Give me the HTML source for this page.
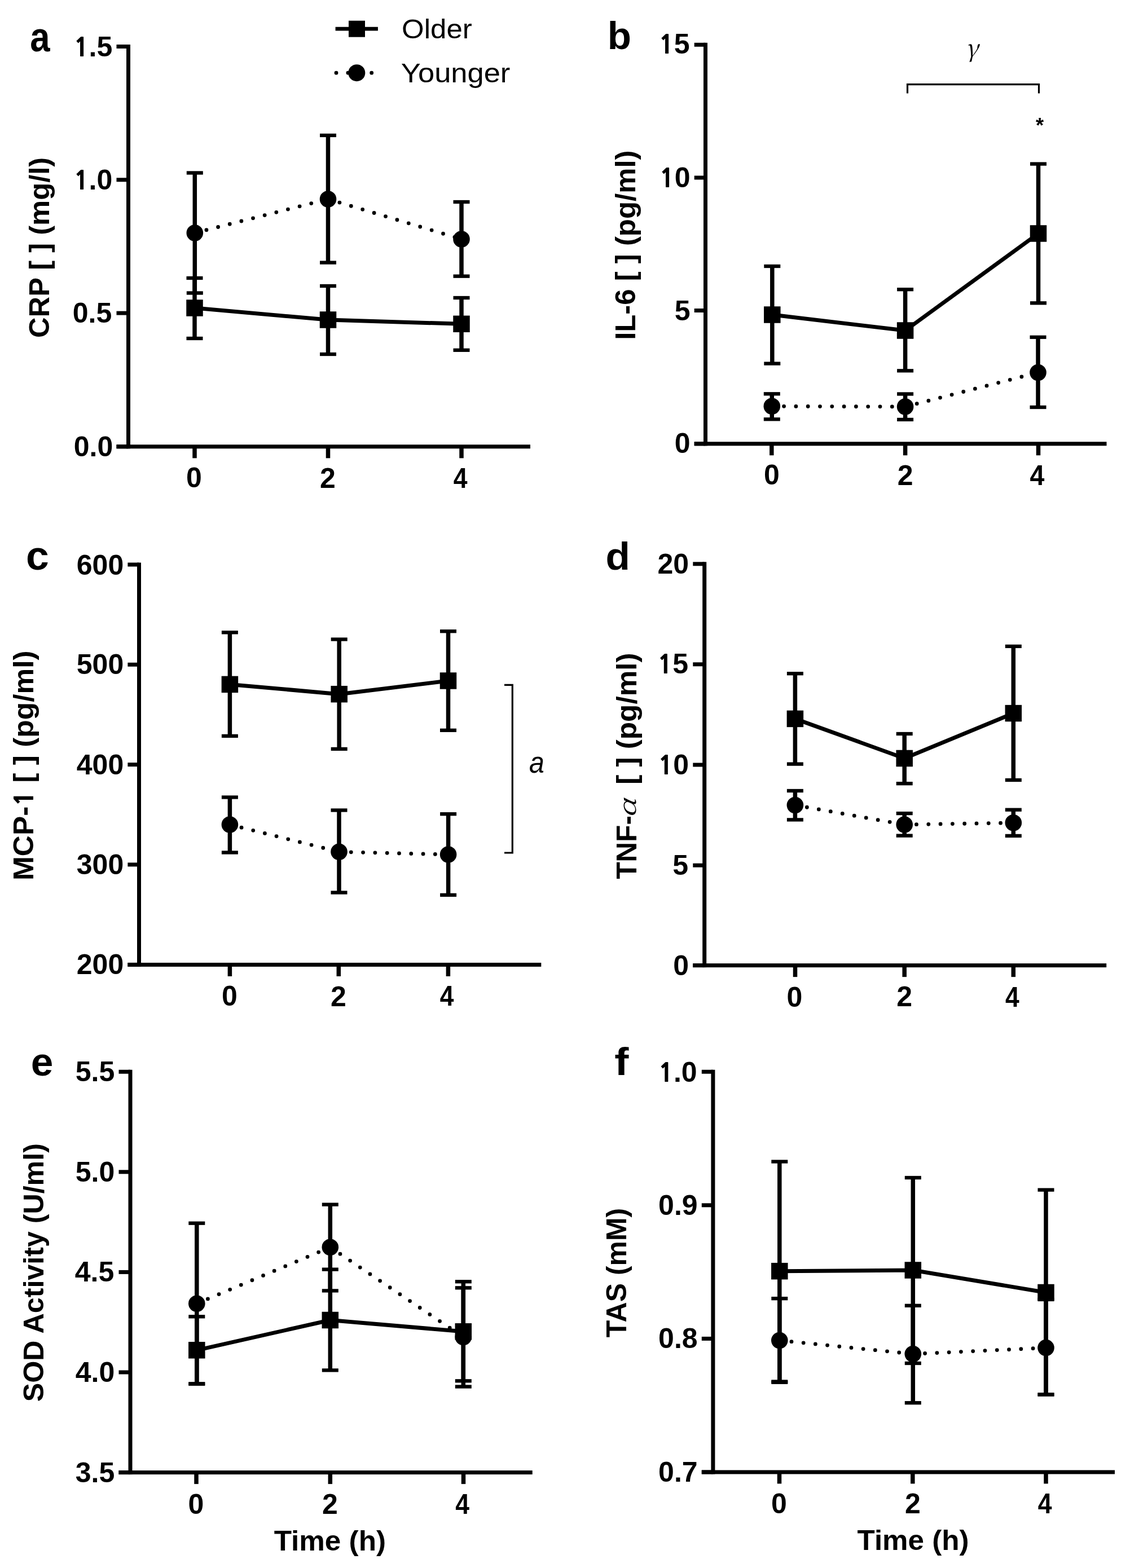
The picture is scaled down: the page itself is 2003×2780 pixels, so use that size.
<!DOCTYPE html>
<html><head><meta charset="utf-8"><title>Figure</title>
<style>
html,body{margin:0;padding:0;background:#fff;}
body{width:2003px;height:2780px;overflow:hidden;}
svg{display:block;}
text{font-family:"Liberation Sans", Arial, Helvetica, sans-serif;fill:#000;}
.tk{font-size:50px;font-weight:bold;}
.yl{font-size:50.5px;font-weight:bold;}
.pl{font-size:69px;font-weight:bold;}
.lg{font-size:48px;font-weight:normal;}
.gr{font-family:"Liberation Serif", "Times New Roman", serif;font-style:italic;font-weight:normal;}
.gm{font-family:"Noto Serif CJK SC","Liberation Serif", "Times New Roman", serif;font-style:italic;font-size:42px;}
.gra{font-family:"Noto Serif CJK SC","Liberation Serif", "Times New Roman", serif;font-style:italic;font-weight:normal;font-size:47px;}
.ast{font-size:36px;font-weight:bold;}
.one{font-family:NanumGothic,"Liberation Sans",sans-serif;font-weight:800;font-size:0.886em;}
.it{font-size:50px;font-style:italic;font-weight:normal;}
.dot{stroke:#000;stroke-width:6.8;stroke-linecap:round;stroke-dasharray:0 21.3;fill:none;}
.sol{stroke:#000;stroke-width:7.0;fill:none;stroke-linejoin:round;}
</style></head>
<body>
<svg width="2003" height="2780" viewBox="0 0 2003 2780">
<rect x="0" y="0" width="2003" height="2780" fill="#fff"/>
<g fill="#000" stroke="none">
<rect x="224" y="79" width="7" height="716.3"/>
<rect x="206.5" y="788.3" width="733.5" height="7"/>
<rect x="206.5" y="79" width="21" height="7"/>
<rect x="206.5" y="315.3" width="21" height="7"/>
<rect x="206.5" y="551.6" width="21" height="7"/>
<rect x="206.5" y="788.3" width="21" height="7"/>
<rect x="341.25" y="791.8" width="7.5" height="20.5"/>
<rect x="577.75" y="791.8" width="7.5" height="20.5"/>
<rect x="814.25" y="791.8" width="7.5" height="20.5"/>
<rect x="341.25" y="493" width="7.5" height="107"/>
<rect x="330.5" y="489.85" width="29" height="6.3"/>
<rect x="330.5" y="596.85" width="29" height="6.3"/>
<rect x="577.75" y="507" width="7.5" height="121"/>
<rect x="567" y="503.85" width="29" height="6.3"/>
<rect x="567" y="624.85" width="29" height="6.3"/>
<rect x="814.25" y="528" width="7.5" height="92.8"/>
<rect x="803.5" y="524.85" width="29" height="6.3"/>
<rect x="803.5" y="617.65" width="29" height="6.3"/>
<rect x="341.55" y="306.5" width="7.5" height="213"/>
<rect x="330.8" y="303.35" width="29" height="6.3"/>
<rect x="330.8" y="516.35" width="29" height="6.3"/>
<rect x="577.75" y="240" width="7.5" height="225.6"/>
<rect x="567" y="236.85" width="29" height="6.3"/>
<rect x="567" y="462.45" width="29" height="6.3"/>
<rect x="814.25" y="358" width="7.5" height="131.7"/>
<rect x="803.5" y="354.85" width="29" height="6.3"/>
<rect x="803.5" y="486.55" width="29" height="6.3"/>
<line class="dot" x1="345.3" y1="413" x2="581.5" y2="353"/>
<line class="dot" x1="581.5" y1="353" x2="818" y2="424"/>
<polyline class="sol" points="345,546 581.5,567 818,574.3"/>
<circle cx="345.3" cy="413" r="14.8"/>
<circle cx="581.5" cy="353" r="14.8"/>
<circle cx="818" cy="424" r="14.8"/>
<rect x="330.25" y="531.25" width="29.5" height="29.5"/>
<rect x="566.75" y="552.25" width="29.5" height="29.5"/>
<rect x="803.25" y="559.55" width="29.5" height="29.5"/>
<rect x="1247" y="75.8" width="7" height="714.5"/>
<rect x="1230.7" y="783.3" width="730.8" height="7"/>
<rect x="1230.7" y="75.8" width="19.8" height="7"/>
<rect x="1230.7" y="311.5" width="19.8" height="7"/>
<rect x="1230.7" y="547" width="19.8" height="7"/>
<rect x="1230.7" y="783.3" width="19.8" height="7"/>
<rect x="1364.05" y="786.8" width="7.5" height="20.5"/>
<rect x="1600.85" y="786.8" width="7.5" height="20.5"/>
<rect x="1836.75" y="786.8" width="7.5" height="20.5"/>
<rect x="1365.05" y="472" width="7.5" height="172.6"/>
<rect x="1354.3" y="468.85" width="29" height="6.3"/>
<rect x="1354.3" y="641.45" width="29" height="6.3"/>
<rect x="1600.85" y="513.2" width="7.5" height="144.1"/>
<rect x="1590.1" y="510.05" width="29" height="6.3"/>
<rect x="1590.1" y="654.15" width="29" height="6.3"/>
<rect x="1836.75" y="290.6" width="7.5" height="246.7"/>
<rect x="1826" y="287.45" width="29" height="6.3"/>
<rect x="1826" y="534.15" width="29" height="6.3"/>
<rect x="1364.55" y="698.3" width="7.5" height="45"/>
<rect x="1353.8" y="695.15" width="29" height="6.3"/>
<rect x="1353.8" y="740.15" width="29" height="6.3"/>
<rect x="1600.85" y="698.5" width="7.5" height="45.4"/>
<rect x="1590.1" y="695.35" width="29" height="6.3"/>
<rect x="1590.1" y="740.75" width="29" height="6.3"/>
<rect x="1836.25" y="597.8" width="7.5" height="124.2"/>
<rect x="1825.5" y="594.65" width="29" height="6.3"/>
<rect x="1825.5" y="718.85" width="29" height="6.3"/>
<line class="dot" x1="1368.3" y1="720.3" x2="1604.6" y2="721"/>
<line class="dot" x1="1604.6" y1="721" x2="1840" y2="660.5"/>
<polyline class="sol" points="1368.8,558 1604.6,586 1840.5,414"/>
<circle cx="1368.3" cy="720.3" r="14.8"/>
<circle cx="1604.6" cy="721" r="14.8"/>
<circle cx="1840" cy="660.5" r="14.8"/>
<rect x="1354.05" y="543.25" width="29.5" height="29.5"/>
<rect x="1589.85" y="571.25" width="29.5" height="29.5"/>
<rect x="1825.75" y="399.25" width="29.5" height="29.5"/>
<rect x="243" y="997.5" width="7" height="716.4"/>
<rect x="226.4" y="1706.9" width="732.9" height="7"/>
<rect x="226.4" y="997.5" width="20.1" height="7"/>
<rect x="226.4" y="1174.8" width="20.1" height="7"/>
<rect x="226.4" y="1352.1" width="20.1" height="7"/>
<rect x="226.4" y="1529.4" width="20.1" height="7"/>
<rect x="226.4" y="1706.9" width="20.1" height="7"/>
<rect x="403.65" y="1710.4" width="7.5" height="20.5"/>
<rect x="596.55" y="1710.4" width="7.5" height="20.5"/>
<rect x="790.65" y="1710.4" width="7.5" height="20.5"/>
<rect x="403.65" y="1121.3" width="7.5" height="183.6"/>
<rect x="392.9" y="1118.15" width="29" height="6.3"/>
<rect x="392.9" y="1301.75" width="29" height="6.3"/>
<rect x="597.45" y="1133.5" width="7.5" height="194.4"/>
<rect x="586.7" y="1130.35" width="29" height="6.3"/>
<rect x="586.7" y="1324.75" width="29" height="6.3"/>
<rect x="790.75" y="1119.2" width="7.5" height="175.6"/>
<rect x="780" y="1116.05" width="29" height="6.3"/>
<rect x="780" y="1291.65" width="29" height="6.3"/>
<rect x="403.65" y="1413.5" width="7.5" height="98"/>
<rect x="392.9" y="1410.35" width="29" height="6.3"/>
<rect x="392.9" y="1508.35" width="29" height="6.3"/>
<rect x="597.25" y="1436.5" width="7.5" height="146"/>
<rect x="586.5" y="1433.35" width="29" height="6.3"/>
<rect x="586.5" y="1579.35" width="29" height="6.3"/>
<rect x="790.85" y="1443.2" width="7.5" height="143.6"/>
<rect x="780.1" y="1440.05" width="29" height="6.3"/>
<rect x="780.1" y="1583.65" width="29" height="6.3"/>
<line class="dot" x1="407.4" y1="1462" x2="601" y2="1510.3"/>
<line class="dot" x1="601" y1="1510.3" x2="794.6" y2="1515"/>
<polyline class="sol" points="407.4,1213.4 601.2,1230.7 794.5,1207"/>
<circle cx="407.4" cy="1462" r="14.8"/>
<circle cx="601" cy="1510.3" r="14.8"/>
<circle cx="794.6" cy="1515" r="14.8"/>
<rect x="392.65" y="1198.65" width="29.5" height="29.5"/>
<rect x="586.45" y="1215.95" width="29.5" height="29.5"/>
<rect x="779.75" y="1192.25" width="29.5" height="29.5"/>
<rect x="1245.2" y="996.3" width="7" height="718.8"/>
<rect x="1228.3" y="1708.1" width="732.9" height="7"/>
<rect x="1228.3" y="996.3" width="20.4" height="7"/>
<rect x="1228.3" y="1174.3" width="20.4" height="7"/>
<rect x="1228.3" y="1352.5" width="20.4" height="7"/>
<rect x="1228.3" y="1530.7" width="20.4" height="7"/>
<rect x="1228.3" y="1708.1" width="20.4" height="7"/>
<rect x="1405.75" y="1711.6" width="7.5" height="20.5"/>
<rect x="1599.45" y="1711.6" width="7.5" height="20.5"/>
<rect x="1792.55" y="1711.6" width="7.5" height="20.5"/>
<rect x="1405.65" y="1194.2" width="7.5" height="160.4"/>
<rect x="1394.9" y="1191.05" width="29" height="6.3"/>
<rect x="1394.9" y="1351.45" width="29" height="6.3"/>
<rect x="1599.45" y="1301" width="7.5" height="88.2"/>
<rect x="1588.7" y="1297.85" width="29" height="6.3"/>
<rect x="1588.7" y="1386.05" width="29" height="6.3"/>
<rect x="1792.55" y="1145.9" width="7.5" height="237.1"/>
<rect x="1781.8" y="1142.75" width="29" height="6.3"/>
<rect x="1781.8" y="1379.85" width="29" height="6.3"/>
<rect x="1405.65" y="1402" width="7.5" height="51.4"/>
<rect x="1394.9" y="1398.85" width="29" height="6.3"/>
<rect x="1394.9" y="1450.25" width="29" height="6.3"/>
<rect x="1599.45" y="1442.1" width="7.5" height="39.5"/>
<rect x="1588.7" y="1438.95" width="29" height="6.3"/>
<rect x="1588.7" y="1478.45" width="29" height="6.3"/>
<rect x="1792.55" y="1435.7" width="7.5" height="46.2"/>
<rect x="1781.8" y="1432.55" width="29" height="6.3"/>
<rect x="1781.8" y="1478.75" width="29" height="6.3"/>
<line class="dot" x1="1409.4" y1="1427.5" x2="1603.2" y2="1462"/>
<line class="dot" x1="1603.2" y1="1462" x2="1796.3" y2="1458.8"/>
<polyline class="sol" points="1409.4,1274.4 1603.2,1344.5 1796.3,1264.6"/>
<circle cx="1409.4" cy="1427.5" r="14.8"/>
<circle cx="1603.2" cy="1462" r="14.8"/>
<circle cx="1796.3" cy="1458.8" r="14.8"/>
<rect x="1394.65" y="1259.65" width="29.5" height="29.5"/>
<rect x="1588.45" y="1329.75" width="29.5" height="29.5"/>
<rect x="1781.55" y="1249.85" width="29.5" height="29.5"/>
<rect x="227.5" y="1896.7" width="7" height="717.4"/>
<rect x="210.5" y="2607.1" width="733.2" height="7"/>
<rect x="210.5" y="1896.7" width="20.5" height="7"/>
<rect x="210.5" y="2074.3" width="20.5" height="7"/>
<rect x="210.5" y="2251.9" width="20.5" height="7"/>
<rect x="210.5" y="2429.5" width="20.5" height="7"/>
<rect x="210.5" y="2607.1" width="20.5" height="7"/>
<rect x="344.25" y="2610.6" width="7.5" height="20.5"/>
<rect x="581.55" y="2610.6" width="7.5" height="20.5"/>
<rect x="817.75" y="2610.6" width="7.5" height="20.5"/>
<rect x="345.05" y="2334.3" width="7.5" height="119"/>
<rect x="334.3" y="2331.15" width="29" height="6.3"/>
<rect x="334.3" y="2450.15" width="29" height="6.3"/>
<rect x="581.55" y="2250.6" width="7.5" height="178.8"/>
<rect x="570.8" y="2247.45" width="29" height="6.3"/>
<rect x="570.8" y="2426.25" width="29" height="6.3"/>
<rect x="817.55" y="2272.3" width="7.5" height="176"/>
<rect x="806.8" y="2269.15" width="29" height="6.3"/>
<rect x="806.8" y="2445.15" width="29" height="6.3"/>
<rect x="345.05" y="2168.7" width="7.5" height="285"/>
<rect x="334.3" y="2165.55" width="29" height="6.3"/>
<rect x="334.3" y="2450.55" width="29" height="6.3"/>
<rect x="581.55" y="2135.6" width="7.5" height="152.8"/>
<rect x="570.8" y="2132.45" width="29" height="6.3"/>
<rect x="570.8" y="2285.25" width="29" height="6.3"/>
<rect x="817.55" y="2283.3" width="7.5" height="175.2"/>
<rect x="806.8" y="2280.15" width="29" height="6.3"/>
<rect x="806.8" y="2455.35" width="29" height="6.3"/>
<line class="dot" x1="348.8" y1="2311.2" x2="585.3" y2="2211.3"/>
<line class="dot" x1="585.3" y1="2211.3" x2="821.3" y2="2370.5"/>
<polyline class="sol" points="348.8,2393.8 585.3,2340.5 821.3,2360.8"/>
<circle cx="348.8" cy="2311.2" r="14.8"/>
<circle cx="585.3" cy="2211.3" r="14.8"/>
<circle cx="821.3" cy="2370.5" r="14.8"/>
<rect x="334.05" y="2379.05" width="29.5" height="29.5"/>
<rect x="570.55" y="2325.75" width="29.5" height="29.5"/>
<rect x="806.55" y="2346.05" width="29.5" height="29.5"/>
<rect x="1260.4" y="1896.7" width="7" height="716.8"/>
<rect x="1243.8" y="2606.5" width="732.2" height="7"/>
<rect x="1243.8" y="1896.7" width="20.1" height="7"/>
<rect x="1243.8" y="2133.3" width="20.1" height="7"/>
<rect x="1243.8" y="2369.9" width="20.1" height="7"/>
<rect x="1243.8" y="2606.5" width="20.1" height="7"/>
<rect x="1377.75" y="2610" width="7.5" height="20.5"/>
<rect x="1614.05" y="2610" width="7.5" height="20.5"/>
<rect x="1850.25" y="2610" width="7.5" height="20.5"/>
<rect x="1378.05" y="2059.5" width="7.5" height="390"/>
<rect x="1367.3" y="2056.35" width="29" height="6.3"/>
<rect x="1367.3" y="2446.35" width="29" height="6.3"/>
<rect x="1614.55" y="2088" width="7.5" height="329"/>
<rect x="1603.8" y="2084.85" width="29" height="6.3"/>
<rect x="1603.8" y="2413.85" width="29" height="6.3"/>
<rect x="1850.25" y="2109.6" width="7.5" height="362.9"/>
<rect x="1839.5" y="2106.45" width="29" height="6.3"/>
<rect x="1839.5" y="2469.35" width="29" height="6.3"/>
<rect x="1378.05" y="2302.2" width="7.5" height="148.6"/>
<rect x="1367.3" y="2299.05" width="29" height="6.3"/>
<rect x="1367.3" y="2447.65" width="29" height="6.3"/>
<rect x="1614.55" y="2314.8" width="7.5" height="172.4"/>
<rect x="1603.8" y="2311.65" width="29" height="6.3"/>
<rect x="1603.8" y="2484.05" width="29" height="6.3"/>
<rect x="1850.25" y="2304" width="7.5" height="168.5"/>
<rect x="1839.5" y="2300.85" width="29" height="6.3"/>
<rect x="1839.5" y="2469.35" width="29" height="6.3"/>
<line class="dot" x1="1381.8" y1="2376.5" x2="1618.3" y2="2400.5"/>
<line class="dot" x1="1618.3" y1="2400.5" x2="1854" y2="2389.6"/>
<polyline class="sol" points="1381.8,2253.7 1618.3,2252 1854,2291.5"/>
<circle cx="1381.8" cy="2376.5" r="14.8"/>
<circle cx="1618.3" cy="2400.5" r="14.8"/>
<circle cx="1854" cy="2389.6" r="14.8"/>
<rect x="1367.05" y="2238.95" width="29.5" height="29.5"/>
<rect x="1603.55" y="2237.25" width="29.5" height="29.5"/>
<rect x="1839.25" y="2276.75" width="29.5" height="29.5"/>
<line x1="594.6" y1="51.2" x2="669.9" y2="51.2" stroke="#000" stroke-width="6.8"/>
<rect x="618" y="36.7" width="29" height="29"/>
<line class="dot" x1="596" y1="129.2" x2="659.5" y2="129.2" style="stroke-dasharray:0 20.9"/>
<circle cx="632.3" cy="129.2" r="15"/>
<path d="M1608.5 165.5 V149.6 H1841.5 V165.5" fill="none" stroke="#000" stroke-width="3.2"/>
<path d="M894 1214.4 H908.3 V1512 H894" fill="none" stroke="#000" stroke-width="3.2"/>
<text class="tk" transform="translate(199.3 99.5)" text-anchor="end"><tspan class="one">1</tspan>.5</text>
<text class="tk" transform="translate(199.3 335.8)" text-anchor="end"><tspan class="one">1</tspan>.0</text>
<text class="tk" transform="translate(198.3 572.1)" text-anchor="end">0.5</text>
<text class="tk" transform="translate(200.3 808.8)" text-anchor="end">0.0</text>
<text class="tk" transform="translate(344 864.1)" text-anchor="middle">0</text>
<text class="tk" transform="translate(581 864.6)" text-anchor="middle">2</text>
<text class="tk" transform="translate(816.02 864.7) scale(0.8901 1.0000)" text-anchor="middle">4</text>
<text class="tk" transform="translate(1222.5 95.3)" text-anchor="end"><tspan class="one">1</tspan>5</text>
<text class="tk" transform="translate(1223.5 331.5)" text-anchor="end"><tspan class="one">1</tspan>0</text>
<text class="tk" transform="translate(1223.5 567.5)" text-anchor="end">5</text>
<text class="tk" transform="translate(1223.5 803.3)" text-anchor="end">0</text>
<text class="tk" transform="translate(1367.8 858.6)" text-anchor="middle">0</text>
<text class="tk" transform="translate(1604.6 859.6)" text-anchor="middle">2</text>
<text class="tk" transform="translate(1838.51 859.7) scale(0.9304 1.0000)" text-anchor="middle">4</text>
<text class="tk" transform="translate(219.2 1018.5)" text-anchor="end">600</text>
<text class="tk" transform="translate(219.2 1195.3)" text-anchor="end">500</text>
<text class="tk" transform="translate(219.2 1372.6)" text-anchor="end">400</text>
<text class="tk" transform="translate(219.2 1549.9)" text-anchor="end">300</text>
<text class="tk" transform="translate(219.2 1727.4)" text-anchor="end">200</text>
<text class="tk" transform="translate(406.9 1783.2)" text-anchor="middle">0</text>
<text class="tk" transform="translate(599.8 1783.7)" text-anchor="middle">2</text>
<text class="tk" transform="translate(792.16 1783.1) scale(0.8873 1.0000)" text-anchor="middle">4</text>
<text class="tk" transform="translate(1221.1 1016.8)" text-anchor="end">20</text>
<text class="tk" transform="translate(1220.1 1194.3)" text-anchor="end"><tspan class="one">1</tspan>5</text>
<text class="tk" transform="translate(1221.1 1373)" text-anchor="end"><tspan class="one">1</tspan>0</text>
<text class="tk" transform="translate(1220.1 1550.7)" text-anchor="end">5</text>
<text class="tk" transform="translate(1221.1 1728.6)" text-anchor="end">0</text>
<text class="tk" transform="translate(1408.5 1784.9)" text-anchor="middle">0</text>
<text class="tk" transform="translate(1603.2 1784.4)" text-anchor="middle">2</text>
<text class="tk" transform="translate(1794.24 1784.9) scale(0.8889 1.0000)" text-anchor="middle">4</text>
<text class="tk" transform="translate(203.3 1916.7)" text-anchor="end">5.5</text>
<text class="tk" transform="translate(203.3 2094.8)" text-anchor="end">5.0</text>
<text class="tk" transform="translate(202.3 2272.4)" text-anchor="end">4.5</text>
<text class="tk" transform="translate(203.3 2450)" text-anchor="end">4.0</text>
<text class="tk" transform="translate(203.3 2628.1)" text-anchor="end">3.5</text>
<text class="tk" transform="translate(347.5 2684.4)" text-anchor="middle">0</text>
<text class="tk" transform="translate(584.8 2684.4)" text-anchor="middle">2</text>
<text class="tk" transform="translate(819.73 2684.4) scale(0.8916 1.0000)" text-anchor="middle">4</text>
<text class="tk" transform="translate(1235.6 1917.7)" text-anchor="end"><tspan class="one">1</tspan>.0</text>
<text class="tk" transform="translate(1236.6 2153.8)" text-anchor="end">0.9</text>
<text class="tk" transform="translate(1236.6 2390.4)" text-anchor="end">0.8</text>
<text class="tk" transform="translate(1236.6 2627)" text-anchor="end">0.7</text>
<text class="tk" transform="translate(1381 2682.8)" text-anchor="middle">0</text>
<text class="tk" transform="translate(1617.8 2682.8)" text-anchor="middle">2</text>
<text class="tk" transform="translate(1852.02 2682.5) scale(0.8901 1.0000)" text-anchor="middle">4</text>
<text class="pl" transform="translate(53.16 91) scale(0.9199 1.0837)">a</text>
<text class="pl" transform="translate(1076.69 87.4) scale(1.0009 0.9802)">b</text>
<text class="pl" transform="translate(46.12 1009.58) scale(1.0619 1.0564)">c</text>
<text class="pl" transform="translate(1073.48 1009.71) scale(1.0303 1.0003)">d</text>
<text class="pl" transform="translate(54.78 1907.39) scale(1.0323 1.0183)">e</text>
<text class="pl" transform="translate(1089.19 1906) scale(1.0950 1.0005)">f</text>
<text class="yl" transform="translate(86.5 599.03) rotate(-90)" textLength="320.29" lengthAdjust="spacingAndGlyphs">CRP [ ] (mg/l)</text>
<text class="yl" transform="translate(1125.9 602.85) rotate(-90)" textLength="336.33" lengthAdjust="spacingAndGlyphs">IL-6 [ ] (pg/ml)</text>
<text class="yl" transform="translate(58.6 1561.02) rotate(-90)" textLength="407.69" lengthAdjust="spacingAndGlyphs">MCP-<tspan class="one">1</tspan> [ ] (pg/ml)</text>
<text class="yl" transform="translate(1127.7 1558.58) rotate(-90)" textLength="112.4" lengthAdjust="spacingAndGlyphs">TNF-</text>
<text class="gra" transform="translate(1126.63 1450.19) rotate(-90) scale(1.1791 0.8621)">α</text>
<text class="yl" transform="translate(1127.7 1390.85) rotate(-90)" textLength="233.36" lengthAdjust="spacingAndGlyphs">[ ] (pg/ml)</text>
<text class="yl" transform="translate(77.3 2485.22) rotate(-90)" textLength="458.06" lengthAdjust="spacingAndGlyphs">SOD Activity (U/ml)</text>
<text class="yl" transform="translate(1110.1 2371.22) rotate(-90)" textLength="229.45" lengthAdjust="spacingAndGlyphs">TAS (mM)</text>
<text class="yl" transform="translate(485.68 2748.5)" textLength="198.36" lengthAdjust="spacingAndGlyphs">Time (h)</text>
<text class="yl" transform="translate(1519.6 2748)" textLength="197.94" lengthAdjust="spacingAndGlyphs">Time (h)</text>
<text class="lg" transform="translate(712.09 67.5)" textLength="124.65" lengthAdjust="spacingAndGlyphs">Older</text>
<text class="lg" transform="translate(710.78 145.8)" textLength="193.53" lengthAdjust="spacingAndGlyphs">Younger</text>
<text class="gm" transform="translate(1711.13 101) scale(0.9957 1.0361)">γ</text>
<text class="ast" transform="translate(1835.95 235.31) scale(1.0076 1.0095)">*</text>
<text class="it" transform="translate(937.96 1370) scale(0.9650 1.0754)">a</text>
</g></svg>
</body></html>
